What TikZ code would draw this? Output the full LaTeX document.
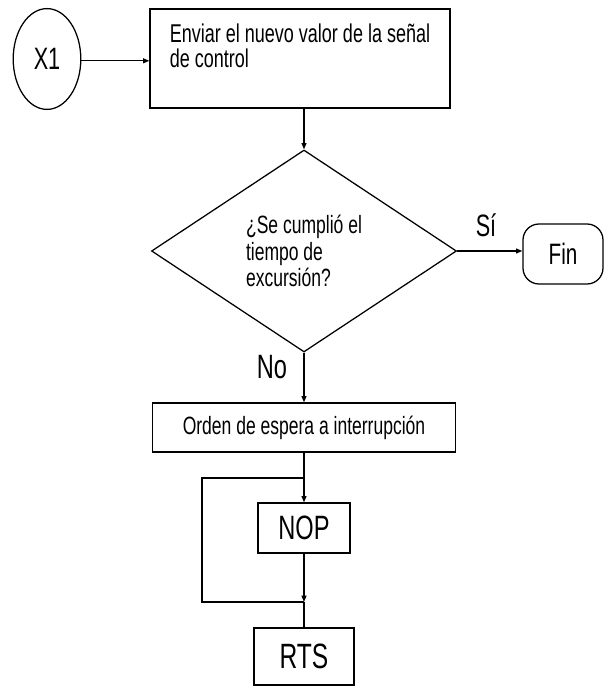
\documentclass[tikz,border=0pt]{standalone}
\usepackage{fontspec}
\setmainfont{Liberation Sans}[FakeStretch=0.7]
\usetikzlibrary{shapes.geometric,arrows.meta}

\tikzset{
  caja/.style = {draw, rectangle, inner sep=0pt},
  decision/.style = {draw, diamond, inner sep=0pt},
  etiqueta/.style = {anchor=base, inner sep=0pt}
}

\begin{document}
\begin{tikzpicture}[line width=0.9pt, >={Triangle[length=4.5pt,width=3.5pt]}]
                    \useasboundingbox (0,0) rectangle (15.15,-17.175);
                    \node[draw, ellipse, minimum width=1.69cm, minimum height=2.52cm, inner sep=0pt,
                          font=\fontsize{22}{26}\selectfont] (x1) at (1.175,-1.475) {X1};
                    \node[caja, minimum width=7.5cm, minimum height=2.475cm, align=left,
                          font=\fontsize{18.3}{17.8}\selectfont] (enviar) at (7.5,-1.4625)
                          {Enviar el nuevo valor de la señal\\de control\\\mbox{}};
                    \node[decision, minimum width=7.625cm, minimum height=5.05cm, align=left,
                          font=\fontsize{17.8}{19}\selectfont] (pregunta) at (7.6,-6.275)
                          {¿Se cumplió el\\tiempo de\\excursión?};
                    \node[caja, rounded corners=0.4cm, minimum width=2cm, minimum height=1.5cm,
                          font=\fontsize{21}{24}\selectfont] (fin) at (14.075,-6.35) {Fin};
                    \node[caja, minimum width=7.575cm, minimum height=1.225cm,
                          font=\fontsize{17.8}{20}\selectfont] (orden) at (7.6,-10.6875)
                          {Orden de espera a interrupción};
                    \node[caja, minimum width=2.3cm, minimum height=1.25cm,
                          font=\fontsize{24}{28}\selectfont] (nop) at (7.6,-13.2) {NOP};
                    \node[caja, minimum width=2.5cm, minimum height=1.425cm,
                          font=\fontsize{25}{29}\selectfont] (rts) at (7.6,-16.4125) {RTS};
                    \node[etiqueta, font=\fontsize{22}{26}\selectfont] (si) at (12.15,-5.92) {Sí};
                    \node[etiqueta, font=\fontsize{24}{28}\selectfont] (no) at (6.8,-9.45) {No};
                    \coordinate (j1) at (7.6,-11.95);
                    \coordinate (j2) at (7.6,-15.05);
                    % flechas
                    \draw[->] (x1.east |- 0,-1.52) -- (enviar.west |- 0,-1.52);
                    \draw[->] (enviar.south -| pregunta.north) -- (pregunta.north);
                    \draw[->] (pregunta.east) -- (pregunta.east -| fin.west);
                    \draw[->] (pregunta.south) -- (orden.north);
                    \draw[->] (orden.south) -- (nop.north);
                    \draw[->] (nop.south) -- (j2);
                    \draw (j2) -- (rts.north);
                    % lazo de espera
                    \draw (j1) -- ++(-2.55,0) |- (j2);
                \end{tikzpicture}
\end{document}
